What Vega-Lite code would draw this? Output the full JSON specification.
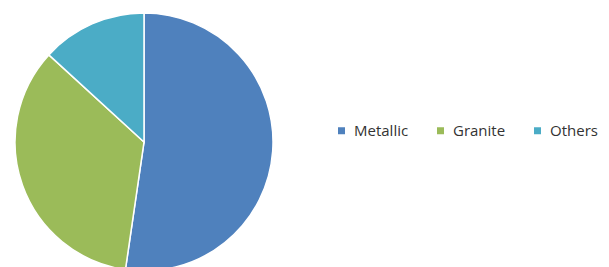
{
  "$schema": "https://vega.github.io/schema/vega-lite/v6.json",
  "width": 288,
  "height": 284,
  "padding": 0,
  "background": "white",
  "view": {"stroke": null},
  "data": {"values": [
    {"type": "Metallic", "share": 52.3, "order": 1},
    {"type": "Granite", "share": 34.5, "order": 2},
    {"type": "Others", "share": 13.2, "order": 3}
  ]},
  "mark": {"type": "arc", "outerRadius": 129, "stroke": "white", "strokeWidth": 1.5},
  "encoding": {
    "theta": {"field": "share", "type": "quantitative", "stack": true},
    "order": {"field": "order", "type": "quantitative"},
    "color": {
      "field": "type",
      "type": "nominal",
      "scale": {"domain": ["Metallic", "Granite", "Others"], "range": ["#4F81BD", "#9BBB59", "#4BACC6"]},
      "legend": {
        "title": null,
        "orient": "none",
        "legendX": 334,
        "legendY": 123,
        "direction": "horizontal",
        "symbolType": "square",
        "symbolSize": 49,
        "symbolStrokeWidth": 0,
        "labelFont": "Open Sans",
        "labelFontSize": 15,
        "labelColor": "#333333",
        "labelOffset": 5,
        "columnPadding": 24
      }
    }
  }
}
